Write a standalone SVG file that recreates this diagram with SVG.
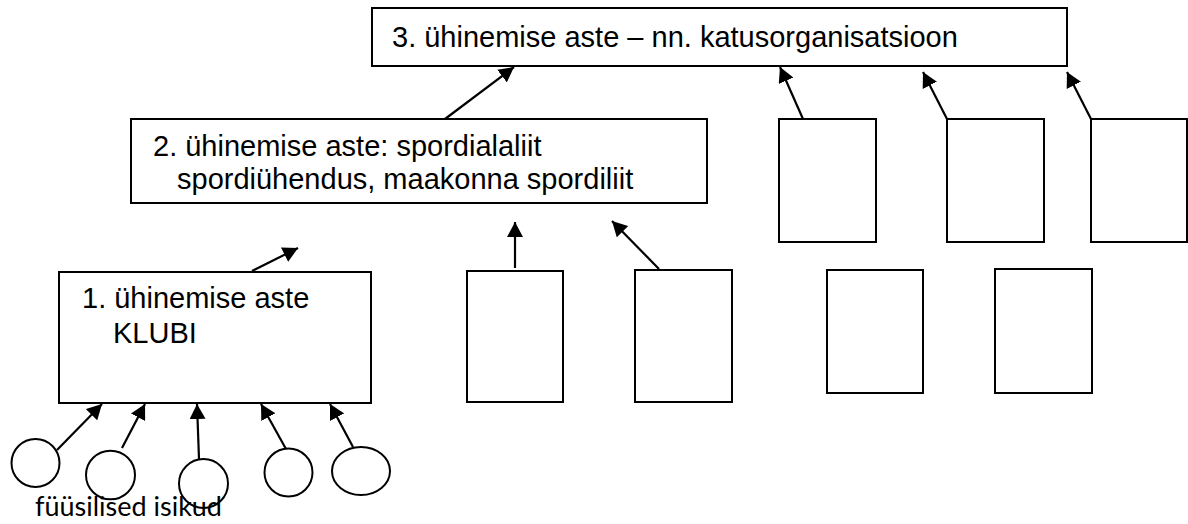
<svg xmlns="http://www.w3.org/2000/svg" width="1188" height="524" viewBox="0 0 1188 524">
<style>
.box{fill:#fff;stroke:#000;stroke-width:2}
.circ{fill:none;stroke:#000;stroke-width:2}
.lbl{font-family:"Liberation Sans",Arial,sans-serif;font-size:29px;fill:#000}
.foot{font-family:Lato,"Open Sans",sans-serif;font-size:27px;fill:#000}
.conn line{stroke:#000;stroke-width:2.2;marker-end:url(#ah)}
</style>
<defs>
<marker id="ah" markerUnits="userSpaceOnUse" markerWidth="16" markerHeight="16" refX="15" refY="8" orient="auto">
<path d="M0,0 L15,8 L0,16 z" fill="#000"/>
</marker>
</defs>
<rect width="1188" height="524" fill="#fff"/>
<g id="level3">
<rect class="box" x="372" y="8" width="695" height="58"/>
<text class="lbl" x="392" y="47">3. ühinemise aste – nn. katusorganisatsioon</text>
</g>
<g id="level2">
<rect class="box" x="131" y="119" width="576" height="84"/>
<text class="lbl" x="153" y="156">2. ühinemise aste: spordialaliit</text>
<text class="lbl" x="177" y="189">spordiühendus, maakonna spordiliit</text>
</g>
<g id="level1">
<rect class="box" x="59" y="272" width="312" height="131"/>
<text class="lbl" x="82" y="308">1. ühinemise aste</text>
<text class="lbl" x="113" y="343">KLUBI</text>
</g>
<g id="boxA"><rect class="box" x="467" y="271" width="96" height="131"/></g>
<g id="boxB"><rect class="box" x="635" y="270" width="97" height="132"/></g>
<g id="boxC"><rect class="box" x="779" y="119" width="97" height="123"/></g>
<g id="boxD"><rect class="box" x="947" y="119" width="97" height="123"/></g>
<g id="boxE"><rect class="box" x="1091" y="119" width="96" height="123"/></g>
<g id="boxF"><rect class="box" x="827" y="270" width="96" height="123"/></g>
<g id="boxG"><rect class="box" x="995" y="269" width="97" height="124"/></g>
<g id="persons">
<text class="foot" x="35" y="516" textLength="187" lengthAdjust="spacingAndGlyphs">füüsilised isikud</text>
<ellipse id="p1" class="circ" cx="35.5" cy="463" rx="24" ry="24"/>
<ellipse id="p2" class="circ" cx="110.5" cy="475" rx="24.5" ry="24.3"/>
<ellipse id="p3" class="circ" cx="203.5" cy="483.5" rx="24.5" ry="24.5"/>
<ellipse id="p4" class="circ" cx="288.5" cy="472.5" rx="24" ry="24"/>
<ellipse id="p5" class="circ" cx="361" cy="471" rx="29" ry="24"/>
</g>
<g class="conn" id="connectors">
<line x1="445" y1="119" x2="514" y2="67"/>
<line x1="252" y1="271" x2="298" y2="248"/>
<line x1="57" y1="450" x2="102" y2="404"/>
<line x1="122" y1="448" x2="145" y2="404"/>
<line x1="199" y1="459" x2="197" y2="404"/>
<line x1="286" y1="449" x2="261" y2="404"/>
<line x1="353" y1="447" x2="330" y2="404"/>
<line x1="515" y1="268" x2="515" y2="222"/>
<line x1="659" y1="269" x2="612" y2="221"/>
<line x1="803" y1="119" x2="780" y2="67"/>
<line x1="947" y1="119" x2="923" y2="72"/>
<line x1="1091" y1="119" x2="1067" y2="72"/>
</g>
</svg>
